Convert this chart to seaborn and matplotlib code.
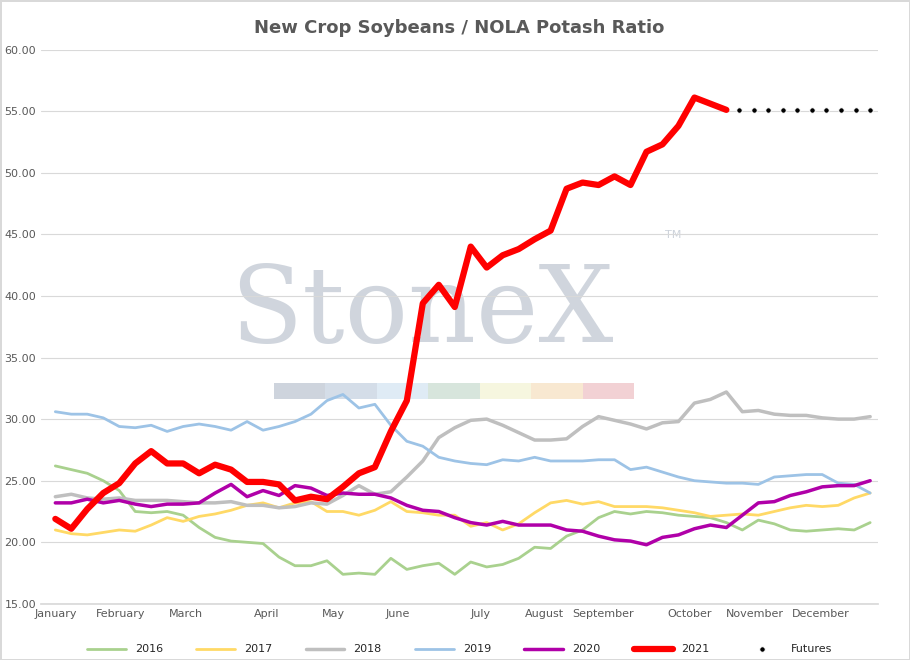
import numpy as np
import pandas as pd
import matplotlib
matplotlib.use("Agg")
import matplotlib.pyplot as plt
import seaborn as sns

# weekly ratios
s2016 = [26.2, 25.9, 25.6, 25.0, 24.2, 22.5, 22.4, 22.5, 22.2, 21.2, 20.4, 20.1, 20.0, 19.9, 18.8, 18.1, 18.1, 18.5,
         17.4, 17.5, 17.4, 18.7, 17.8, 18.1, 18.3, 17.4, 18.4, 18.0, 18.2, 18.7, 19.6, 19.5, 20.5, 21.0, 22.0, 22.5,
         22.3, 22.5, 22.4, 22.2, 22.1, 22.0, 21.6, 21.0, 21.8, 21.5, 21.0, 20.9, 21.0, 21.1, 21.0, 21.6]
s2017 = [21.0, 20.7, 20.6, 20.8, 21.0, 20.9, 21.4, 22.0, 21.7, 22.1, 22.3, 22.6, 23.0, 23.2, 22.8, 23.2, 23.3, 22.5,
         22.5, 22.2, 22.6, 23.3, 22.5, 22.4, 22.2, 22.2, 21.3, 21.6, 21.0, 21.5, 22.4, 23.2, 23.4, 23.1, 23.3, 22.9,
         22.9, 22.9, 22.8, 22.6, 22.4, 22.1, 22.2, 22.3, 22.2, 22.5, 22.8, 23.0, 22.9, 23.0, 23.6, 24.0]
s2018 = [23.7, 23.9, 23.6, 23.5, 23.6, 23.4, 23.4, 23.4, 23.3, 23.2, 23.2, 23.3, 23.0, 23.0, 22.8, 22.9, 23.2, 23.1,
         23.8, 24.6, 23.9, 24.1, 25.3, 26.6, 28.5, 29.3, 29.9, 30.0, 29.5, 28.9, 28.3, 28.3, 28.4, 29.4, 30.2, 29.9,
         29.6, 29.2, 29.7, 29.8, 31.3, 31.6, 32.2, 30.6, 30.7, 30.4, 30.3, 30.3, 30.1, 30.0, 30.0, 30.2]
s2019 = [30.6, 30.4, 30.4, 30.1, 29.4, 29.3, 29.5, 29.0, 29.4, 29.6, 29.4, 29.1, 29.8, 29.1, 29.4, 29.8, 30.4, 31.5,
         32.0, 30.9, 31.2, 29.5, 28.2, 27.8, 26.9, 26.6, 26.4, 26.3, 26.7, 26.6, 26.9, 26.6, 26.6, 26.6, 26.7, 26.7,
         25.9, 26.1, 25.7, 25.3, 25.0, 24.9, 24.8, 24.8, 24.7, 25.3, 25.4, 25.5, 25.5, 24.8, 24.7, 24.0]
s2020 = [23.2, 23.2, 23.5, 23.2, 23.4, 23.1, 22.9, 23.1, 23.1, 23.2, 24.0, 24.7, 23.7, 24.2, 23.8, 24.6, 24.4, 23.8,
         24.0, 23.9, 23.9, 23.6, 23.0, 22.6, 22.5, 22.0, 21.6, 21.4, 21.7, 21.4, 21.4, 21.4, 21.0, 20.9, 20.5, 20.2,
         20.1, 19.8, 20.4, 20.6, 21.1, 21.4, 21.2, 22.2, 23.2, 23.3, 23.8, 24.1, 24.5, 24.6, 24.6, 25.0]
s2021 = [21.9, 21.1, 22.7, 24.0, 24.8, 26.4, 27.4, 26.4, 26.4, 25.6, 26.3, 25.9, 24.9, 24.9, 24.7, 23.4, 23.7, 23.5,
         24.5, 25.6, 26.1, 29.0, 31.5, 39.4, 40.9, 39.1, 44.0, 42.3, 43.3, 43.8, 44.6, 45.3, 48.7, 49.2, 49.0, 49.7,
         49.0, 51.7, 52.3, 53.8, 56.1, 55.6, 55.1]
futures = [55.1] * 10

months = ["January", "February", "March", "April", "May", "June", "July", "August",
          "September", "October", "November", "December"]
month_weeks = [0, 4.1, 8.2, 13.2, 17.4, 21.4, 26.6, 30.6, 34.3, 39.7, 43.8, 47.9]

sns.set_theme(style="white")
plt.rcParams['font.family'] = ['DejaVu Sans']
fig, ax = plt.subplots(figsize=(9.1, 6.6), dpi=100)

series = [("2016", s2016, "#a9d18e", 2), ("2017", s2017, "#ffd966", 2), ("2018", s2018, "#bfbfbf", 2.5),
          ("2019", s2019, "#9dc3e6", 2), ("2020", s2020, "#b000a8", 2.5), ("2021", s2021, "#ff0000", 4.5)]
for name, vals, col, lw in series:
    sns.lineplot(x=np.arange(len(vals)), y=vals, ax=ax, color=col, linewidth=lw, label=name)

fx = np.linspace(len(s2021) - 0.2, 51, len(futures))
sns.lineplot(x=fx, y=futures, ax=ax, color="black", linestyle="none", marker="o",
             markersize=4, label="Futures")

# watermark
ax.text(0.455, 0.525, "StoneX", transform=ax.transAxes, ha="center", va="center",
        fontsize=76, family="DejaVu Serif", color="#aab4c2", alpha=0.55, zorder=0)
ax.text(0.745, 0.66, "TM", transform=ax.transAxes, fontsize=8, color="#aab4c2", alpha=0.6, zorder=0)
for i, c in enumerate(["#c9d0da", "#d0dae6", "#dce9f4", "#d3e3d9", "#f5f5dc", "#f8e6cc", "#f1ccd0"]):
    ax.add_patch(plt.Rectangle((0.278 + i * 0.0615, 0.369), 0.0615, 0.03, transform=ax.transAxes,
                               color=c, alpha=0.9, zorder=0, lw=0))

ax.set_ylim(15, 60)
ax.set_yticks(np.arange(15, 61, 5))
ax.set_yticklabels([f"{v:.2f}" for v in np.arange(15, 61, 5)], fontsize=8, color="#595959")
ax.set_xlim(-0.9, 51.5)
ax.set_xticks(month_weeks)
ax.set_xticklabels(months, fontsize=8, color="#595959")
ax.tick_params(length=0)
ax.grid(axis="y", color="#d9d9d9", linewidth=0.8)
for sp in ax.spines.values():
    sp.set_visible(False)
ax.spines["bottom"].set_visible(True)
ax.spines["bottom"].set_color("#d9d9d9")

ax.set_title("New Crop Soybeans / NOLA Potash Ratio", fontsize=13, fontweight="bold", color="#595959", pad=12)
ax.legend(loc="upper center", bbox_to_anchor=(0.5, -0.055), ncol=7, frameon=False, fontsize=8,
          handlelength=3.5, columnspacing=3)

fig.subplots_adjust(left=0.045, right=0.965, top=0.925, bottom=0.085)
fig.patch.set_edgecolor("#d9d9d9")
fig.patch.set_linewidth(1)
fig.savefig("out.png", dpi=100)
